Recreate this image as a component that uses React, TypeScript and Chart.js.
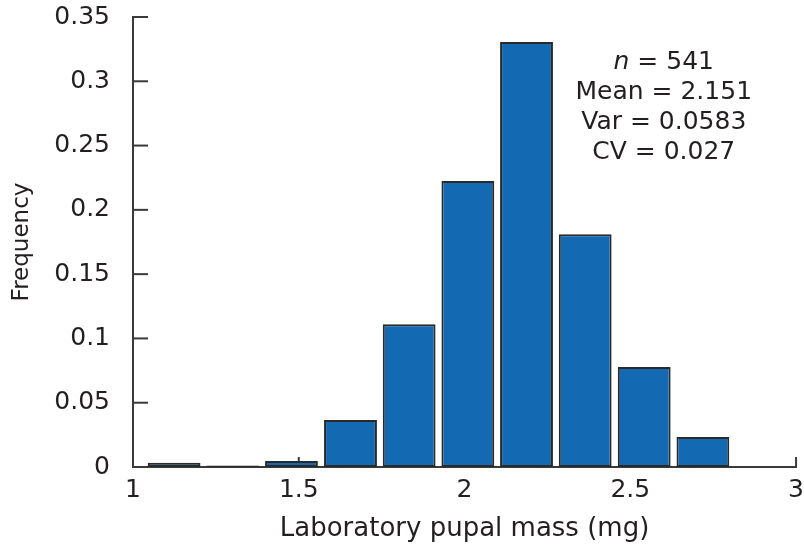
import React, { useEffect, useRef } from "react";
import { Chart, registerables } from "chart.js";

Chart.register(...registerables);

const binCenters = [1.124, 1.301, 1.478, 1.656, 1.833, 2.01, 2.187, 2.364, 2.542, 2.719];
const frequencies = [0.0034, 0.0012, 0.0047, 0.0366, 0.111, 0.2224, 0.3306, 0.181, 0.0778, 0.0233];
const xTickValues = [1, 1.5, 2, 2.5, 3];
const yTickValues = [0, 0.05, 0.1, 0.15, 0.2, 0.25, 0.3, 0.35];
const xTitle = "Laboratory pupal mass (mg)";
const yTitle = "Frequency";
const statLines = [
  { italic: "n", rest: " = 541" },
  { italic: "", rest: "Mean = 2.151" },
  { italic: "", rest: "Var = 0.0583" },
  { italic: "", rest: "CV = 0.027" },
];
const statAnchor = { x: 2.601, y: 0.3096 };

const FONT = "'DejaVu Sans', sans-serif";
const TEXT = "#231f20";
const AXIS = "#3a3a3a";

const inwardTicks = {
  id: "inwardTicks",
  beforeDatasetsDraw(chart: any) {
    const { ctx, chartArea, scales } = chart;
    ctx.save();
    ctx.strokeStyle = AXIS;
    ctx.lineWidth = 2;
    yTickValues.forEach((v) => {
      const y = scales.y.getPixelForValue(v);
      ctx.beginPath();
      ctx.moveTo(chartArea.left, y);
      ctx.lineTo(chartArea.left + 15, y);
      ctx.stroke();
    });
    xTickValues.forEach((v) => {
      const x = scales.x.getPixelForValue(v);
      ctx.beginPath();
      ctx.moveTo(x, chartArea.bottom);
      ctx.lineTo(x, chartArea.bottom - 10);
      ctx.stroke();
    });
    ctx.restore();
  },
};

const statsText = {
  id: "statsText",
  afterDatasetsDraw(chart: any) {
    const { ctx, scales } = chart;
    const cx = scales.x.getPixelForValue(statAnchor.x);
    let y = scales.y.getPixelForValue(statAnchor.y);
    ctx.save();
    ctx.fillStyle = TEXT;
    ctx.textBaseline = "alphabetic";
    ctx.textAlign = "left";
    statLines.forEach((line) => {
      ctx.font = `italic 25px ${FONT}`;
      const wi = line.italic ? ctx.measureText(line.italic).width : 0;
      ctx.font = `25px ${FONT}`;
      const wr = ctx.measureText(line.rest).width;
      const x0 = cx - (wi + wr) / 2;
      if (line.italic) {
        ctx.font = `italic 25px ${FONT}`;
        ctx.fillText(line.italic, x0, y);
      }
      ctx.font = `25px ${FONT}`;
      ctx.fillText(line.rest, x0 + wi, y);
      y += 30;
    });
    ctx.restore();
  },
};

export default function App() {
  const ref = useRef<HTMLCanvasElement>(null);
  useEffect(() => {
    if (!ref.current) return;
    const chart = new Chart(ref.current, {
      type: "bar",
      data: {
        datasets: [
          {
            data: binCenters.map((x, i) => ({ x, y: frequencies[i] })),
            backgroundColor: "#1369b2",
            borderColor: "#2a2a2a",
            borderWidth: 2,
            borderSkipped: false,
            categoryPercentage: 1,
            barPercentage: 0.9,
          } as any,
        ],
      },
      options: {
        responsive: false,
        animation: false,
        events: [],
        layout: { padding: { left: 0, right: 0, top: 17, bottom: 0 } },
        plugins: { legend: { display: false }, tooltip: { enabled: false } },
        scales: {
          x: {
            type: "linear",
            min: 1,
            max: 3,
            offset: false,
            grid: { display: false },
            border: { display: true, color: AXIS, width: 2 },
            afterBuildTicks: (s: any) => {
              s.ticks = xTickValues.map((v) => ({ value: v }));
            },
            afterFit: (s: any) => {
              s.height = 78;
            },
            ticks: {
              color: TEXT,
              font: { family: FONT, size: 25 },
              padding: 0,
              maxRotation: 0,
              autoSkip: false,
              callback: (v: any) => String(v),
            },
            title: {
              display: true,
              text: xTitle,
              color: TEXT,
              font: { family: FONT, size: 26 },
              padding: { top: 0, bottom: 0 },
            },
          },
          y: {
            min: 0,
            max: 0.35,
            grid: { display: false },
            border: { display: true, color: AXIS, width: 2 },
            afterBuildTicks: (s: any) => {
              s.ticks = yTickValues.map((v) => ({ value: v }));
            },
            afterFit: (s: any) => {
              s.width = 133;
              s.paddingTop = 0;
              s.paddingBottom = 0;
            },
            ticks: {
              color: TEXT,
              font: { family: FONT, size: 25 },
              padding: 15,
              autoSkip: false,
              callback: (v: any) => String(Math.round(v * 100) / 100),
            },
            title: {
              display: true,
              text: yTitle,
              color: TEXT,
              font: { family: FONT, size: 23 },
              padding: { top: 8, bottom: 0 },
            },
          },
        },
      },
      plugins: [inwardTicks, statsText],
    });
    return () => chart.destroy();
  }, []);
  return (
    <div style={{ position: "absolute", left: 0, top: 0, width: 804, height: 545, background: "#fff" }}>
      <canvas ref={ref} width={804} height={545} style={{ display: "block" }} />
    </div>
  );
}
